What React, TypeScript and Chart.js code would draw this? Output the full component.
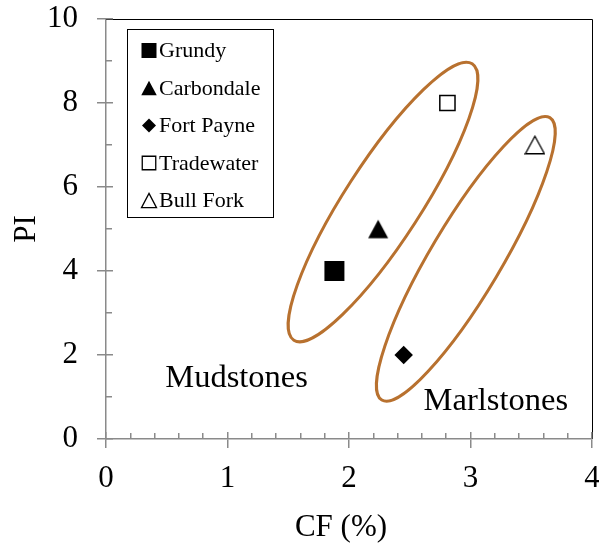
import React, { useEffect, useRef } from 'react';
import { Chart, registerables } from 'chart.js';

Chart.register(...registerables);

// ---------- data ----------
const seriesNames = ['Grundy', 'Carbondale', 'Fort Payne', 'Tradewater', 'Bull Fork'];
const cfValues = [1.88, 2.24, 2.45, 2.81, 3.53];
const piValues = [4, 5, 2, 8, 7];

const xRange = [0, 4];
const yRange = [0, 10];
const xAxisTitle = 'CF (%)';
const yAxisTitle = 'PI';

const groupNames = ['Mudstones', 'Marlstones'];
// ends of each ellipse's long axis, in data units (CF, PI)
const groupAxisStartCF = [1.546, 2.27];
const groupAxisStartPI = [2.352, 0.927];
const groupAxisEndCF = [3.014, 3.653];
const groupAxisEndPI = [8.933, 7.651];
// text anchor of each group label (left, baseline), in data units
const groupLabelCF = [0.488, 2.614];
const groupLabelPI = [1.23, 0.69];

// ---------- styles ----------
const FONT = "'Liberation Serif', 'Times New Roman', Times, serif";
const AXIS_GRAY = '#8a8a8a';
const ELLIPSE_COLOR = '#b8712f';
const markerShape = ['rect', 'triangle', 'diamond', 'rect', 'triangle'];
const markerFilled = [true, true, true, false, false];
const markerSize = [20, 20, 18.5, 15.2, 19];
const legendMarkerSize = [15, 15.5, 14, 13.5, 15];
const ellipseHalfWidthPx = [38.2, 35.4];

function makeTriangle(w: number, h: number, filled: boolean) {
  const c = document.createElement('canvas');
  c.width = Math.ceil(w) + 2;
  c.height = Math.ceil(h) + 2;
  const g = c.getContext('2d')!;
  drawShape(g, 'triangle', c.width / 2, c.height / 2, w, filled, h);
  return c;
}

function drawShape(
  g: CanvasRenderingContext2D,
  shape: string,
  cx: number,
  cy: number,
  size: number,
  filled: boolean,
  hOverride?: number
) {
  g.save();
  g.beginPath();
  if (shape === 'rect') {
    g.rect(cx - size / 2, cy - size / 2, size, size);
  } else if (shape === 'diamond') {
    g.moveTo(cx, cy - size / 2);
    g.lineTo(cx + size / 2, cy);
    g.lineTo(cx, cy + size / 2);
    g.lineTo(cx - size / 2, cy);
    g.closePath();
  } else {
    const h = hOverride ?? size * 0.9;
    g.moveTo(cx, cy - h / 2);
    g.lineTo(cx + size / 2, cy + h / 2);
    g.lineTo(cx - size / 2, cy + h / 2);
    g.closePath();
  }
  if (filled) {
    g.fillStyle = '#000';
    g.fill();
  } else {
    g.fillStyle = '#fff';
    g.fill();
    g.strokeStyle = '#000';
    g.lineWidth = 1.3;
    g.stroke();
  }
  g.restore();
}

function alignPx(p: number, w: number) {
  return Math.round(p - w / 2) + w / 2;
}

const overlayPlugin = {
  id: 'overlay',
  beforeDatasetsDraw(chart: any) {
    const { ctx, scales } = chart;
    const xs = scales.x;
    const ys = scales.y;
    ctx.save();
    // ellipses
    ctx.strokeStyle = ELLIPSE_COLOR;
    ctx.lineWidth = 3;
    for (let i = 0; i < groupNames.length; i++) {
      const x1 = xs.getPixelForValue(groupAxisStartCF[i]);
      const y1 = ys.getPixelForValue(groupAxisStartPI[i]);
      const x2 = xs.getPixelForValue(groupAxisEndCF[i]);
      const y2 = ys.getPixelForValue(groupAxisEndPI[i]);
      const cx = (x1 + x2) / 2;
      const cy = (y1 + y2) / 2;
      const a = Math.hypot(x2 - x1, y2 - y1) / 2;
      const ang = Math.atan2(y2 - y1, x2 - x1);
      ctx.beginPath();
      ctx.ellipse(cx, cy, a, ellipseHalfWidthPx[i], ang, 0, Math.PI * 2);
      ctx.stroke();
    }
    // group labels
    ctx.fillStyle = '#000';
    ctx.font = `32.5px ${FONT}`;
    ctx.textAlign = 'left';
    ctx.textBaseline = 'alphabetic';
    for (let i = 0; i < groupNames.length; i++) {
      ctx.fillText(groupNames[i], xs.getPixelForValue(groupLabelCF[i]), ys.getPixelForValue(groupLabelPI[i]));
    }
    ctx.restore();
  },
  afterDraw(chart: any) {
    const { ctx, chartArea, scales } = chart;
    const xs = scales.x;
    const ys = scales.y;
    const { left, right, top, bottom } = chartArea;
    ctx.save();
    // top and right frame
    ctx.strokeStyle = '#000';
    ctx.lineWidth = 1;
    ctx.beginPath();
    ctx.moveTo(left, alignPx(top, 1));
    ctx.lineTo(alignPx(right, 1), alignPx(top, 1));
    ctx.lineTo(alignPx(right, 1), bottom);
    ctx.stroke();

    // inner ticks (major crossing + minor)
    ctx.strokeStyle = AXIS_GRAY;
    ctx.lineWidth = 1.5;
    ctx.beginPath();
    for (let v = xRange[0]; v <= xRange[1] + 1e-9; v += 0.2) {
      const isMajor = Math.abs(v - Math.round(v)) < 1e-6;
      const px = alignPx(xs.getPixelForValue(v), 1.5);
      ctx.moveTo(px, bottom);
      ctx.lineTo(px, bottom - (isMajor ? 7 : 6));
    }
    for (let v = yRange[0]; v <= yRange[1] + 1e-9; v += 1) {
      const isMajor = Math.round(v) % 2 === 0;
      const py = alignPx(ys.getPixelForValue(v), 1.5);
      ctx.moveTo(left, py);
      ctx.lineTo(left + (isMajor ? 7 : 6), py);
    }
    ctx.stroke();

    // x axis title (sits slightly left of centre in the reference)
    ctx.fillStyle = '#000';
    ctx.font = `31px ${FONT}`;
    ctx.textAlign = 'center';
    ctx.textBaseline = 'alphabetic';
    ctx.fillText(xAxisTitle, (left + right) / 2 - 8, xs.bottom - 7);

    // legend
    const lx = left + 21;
    const ly = top + 10;
    const lw = 146;
    const lh = 188;
    ctx.fillStyle = '#fff';
    ctx.fillRect(lx, ly, lw, lh);
    ctx.strokeStyle = '#000';
    ctx.lineWidth = 1;
    ctx.strokeRect(alignPx(lx, 1), alignPx(ly, 1), lw, lh);
    ctx.font = `22px ${FONT}`;
    ctx.fillStyle = '#000';
    ctx.textAlign = 'left';
    ctx.textBaseline = 'alphabetic';
    chart.data.datasets.forEach((ds: any, i: number) => {
      const base = ly + 28 + i * 37.5;
      drawShape(ctx, markerShape[i], lx + 22, base - 6.5, legendMarkerSize[i], markerFilled[i], legendMarkerSize[i] * 0.95);
      ctx.fillStyle = '#000';
      ctx.fillText(ds.label, lx + 32, base);
    });
    ctx.restore();
  },
};

export default function App() {
  const canvasRef = useRef<HTMLCanvasElement | null>(null);

  useEffect(() => {
    const canvas = canvasRef.current;
    if (!canvas) return;

    const datasets = seriesNames.map((name, i) => {
      const shape = markerShape[i];
      const size = markerSize[i];
      let pointStyle: any = 'circle';
      let radius = size / 2;
      if (shape === 'rect') {
        pointStyle = 'rect';
        radius = size / Math.SQRT2;
      } else if (shape === 'diamond') {
        pointStyle = 'rectRot';
        radius = size / 2;
      } else {
        pointStyle = makeTriangle(size, size * 0.92, markerFilled[i]);
        radius = size / 2;
      }
      return {
        label: name,
        data: [{ x: cfValues[i], y: piValues[i] }],
        pointStyle,
        pointRadius: radius,
        pointHoverRadius: radius,
        backgroundColor: markerFilled[i] ? '#000' : '#fff',
        borderColor: '#000',
        borderWidth: markerFilled[i] ? 0 : 1.5,
        showLine: false,
      };
    });

    const chart = new Chart(canvas, {
      type: 'scatter',
      data: { datasets },
      options: {
        animation: false,
        responsive: false,
        events: [],
        layout: { padding: 0, autoPadding: false },
        plugins: {
          legend: { display: false },
          tooltip: { enabled: false },
        },
        scales: {
          x: {
            type: 'linear',
            min: xRange[0],
            max: xRange[1],
            afterFit: (s: any) => {
              s.height = 104;
              s.paddingLeft = 0;
              s.paddingRight = 7;
            },
            ticks: {
              stepSize: 1,
              color: '#000',
              padding: 12,
              autoSkip: false,
              maxRotation: 0,
              font: { family: FONT, size: 31 },
            },
            grid: {
              drawOnChartArea: false,
              drawTicks: true,
              tickLength: 9,
              color: AXIS_GRAY,
              lineWidth: 1.5,
            },
            border: { display: true, color: AXIS_GRAY, width: 1.5 },
            title: { display: false },
          },
          y: {
            type: 'linear',
            min: yRange[0],
            max: yRange[1],
            afterFit: (s: any) => {
              s.width = 106;
              s.paddingTop = 19;
              s.paddingBottom = 0;
            },
            ticks: {
              stepSize: 2,
              color: '#000',
              padding: 19,
              font: { family: FONT, size: 31 },
            },
            grid: {
              drawOnChartArea: false,
              drawTicks: true,
              tickLength: 9,
              color: AXIS_GRAY,
              lineWidth: 1.5,
            },
            border: { display: true, color: AXIS_GRAY, width: 1.5 },
            title: {
              display: true,
              text: yAxisTitle,
              color: '#000',
              font: { family: FONT, size: 31 },
              padding: { top: 8, bottom: 0 },
            },
          },
        },
      },
      plugins: [overlayPlugin],
    });

    return () => chart.destroy();
  }, []);

  return (
    <div style={{ position: 'absolute', left: 0, top: 0, width: 599, height: 543, background: '#fff' }}>
      <canvas ref={canvasRef} width={599} height={543} style={{ display: 'block' }} />
    </div>
  );
}
